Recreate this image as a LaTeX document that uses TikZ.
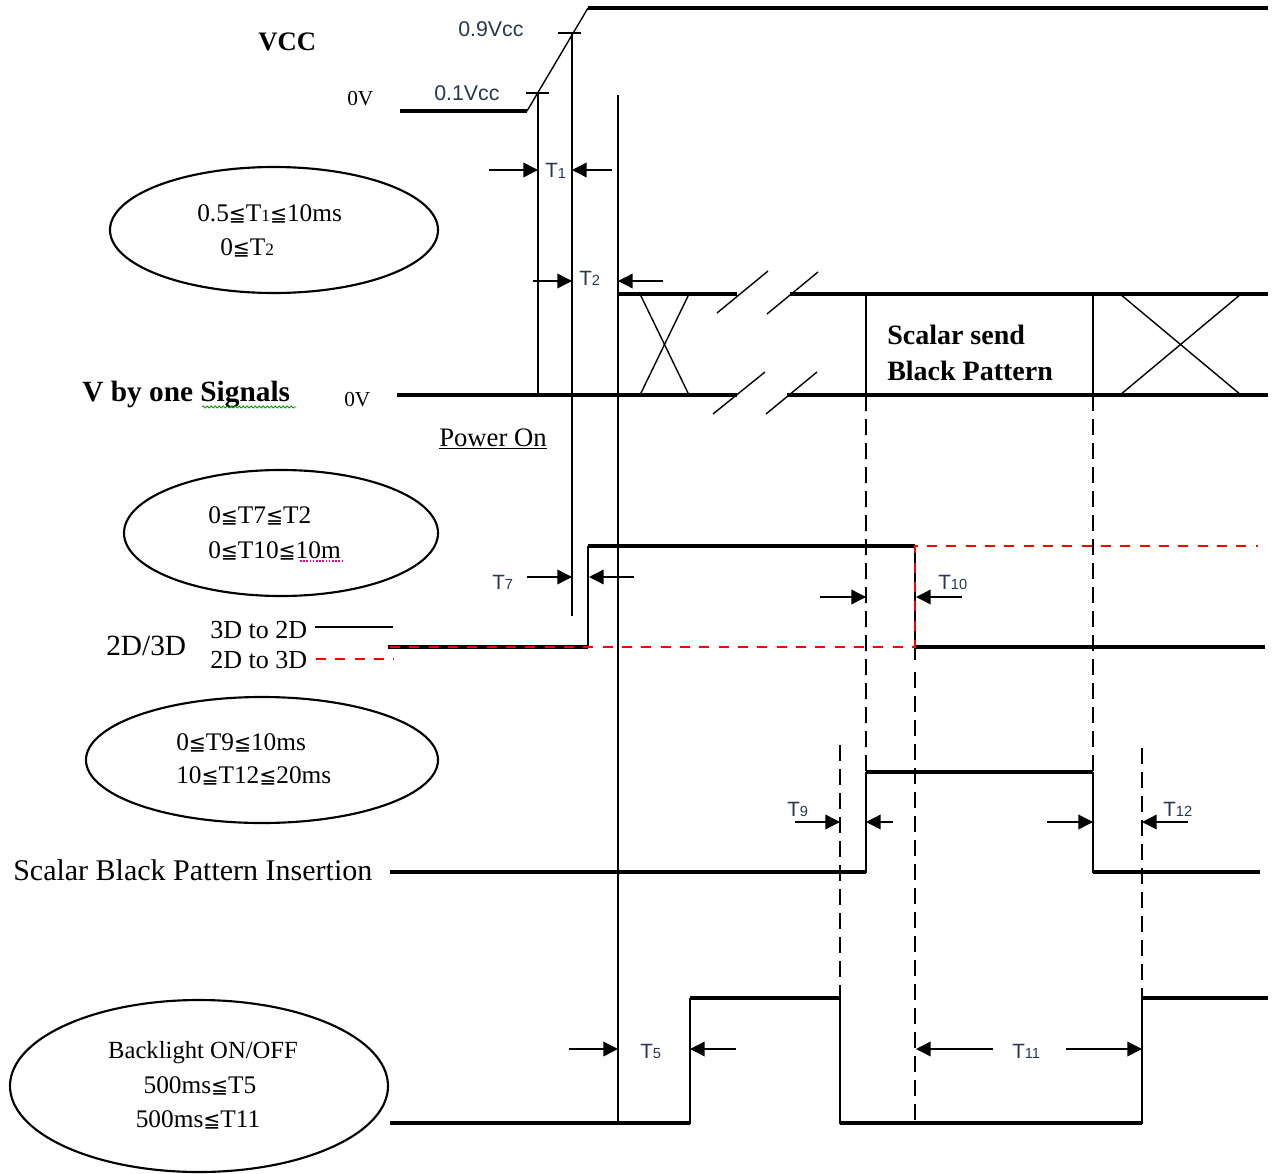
\documentclass[tikz,border=0pt]{standalone}
\usepackage{fontspec}
\setmainfont{Liberation Serif}
\setsansfont{Liberation Sans}
\newfontfamily\symf[Scale=0.8]{DejaVu Sans}
\usetikzlibrary{shapes.geometric,arrows.meta,decorations.pathmorphing}
\newcommand\myle{{\symf ≦}}
\newcommand\smd[1]{{\fontsize{13}{13}\selectfont #1}}
\newcommand\tsub[1]{\raisebox{-0.6pt}{\fontsize{11}{11}\selectfont #1}}
\definecolor{tcol}{RGB}{40,55,80}
\begin{document}
\begin{tikzpicture}[x=0.75pt,y=-0.75pt,
  sig/.style={line width=2.8pt},
  sigm/.style={line width=2.6pt},
  thinline/.style={line width=1.05pt},
  vline/.style={line width=1.3pt},
  dashline/.style={line width=1.3pt, dash pattern=on 12pt off 6pt},
  redline/.style={red, line width=1.6pt, dash pattern=on 7.5pt off 7pt},
  arr/.style={-{Triangle[length=11pt,width=11pt]}, line width=1.05pt},
  tlab/.style={font=\sffamily\fontsize{15.5}{15.5}\selectfont, text=tcol, anchor=base west, inner sep=0pt},
  vlab/.style={font=\sffamily\fontsize{16}{16}\selectfont, text=tcol, anchor=base west, inner sep=0pt},
  etext/.style={font=\fontsize{19}{19}\selectfont, anchor=base west, inner sep=0pt},
  lab/.style={anchor=base west, inner sep=0pt},
  oval/.style={ellipse, draw, line width=1.6pt, inner sep=0pt}
]
\useasboundingbox[fill=white] (0,0) rectangle (1276,1173);

% ---------------- ellipses ----------------
\node[oval, minimum width=246pt, minimum height=94.5pt] (e1) at (274,230) {};
\node[oval, minimum width=235.5pt, minimum height=94.5pt] (e2) at (281,533) {};
\node[oval, minimum width=264pt, minimum height=94.5pt] (e3) at (262,760) {};
\node[oval, minimum width=283.5pt, minimum height=129pt] (e4) at (199,1086) {};

\node[etext] (e1a) at (197,221) {0.5\myle T\smd{1}\myle 10ms};
\node[etext] (e1b) at (220,255) {0\myle T\smd{2}};
\node[etext] (e2a) at (208,523) {0\myle T7\myle T2};
\node[etext] (e2b) at (208,558) {0\myle T10\myle 10m};
\node[etext] (e3a) at (176,750) {0\myle T9\myle 10ms};
\node[etext] (e3b) at (176,783) {10\myle T12\myle 20ms};
\node[etext, anchor=base, font=\fontsize{18.5}{18.5}\selectfont] (e4a) at (203,1058) {Backlight ON/OFF};
\node[etext, anchor=base] (e4b) at (200,1093) {500ms\myle T5};
\node[etext, anchor=base] (e4c) at (198,1127) {500ms\myle T11};
\draw[magenta, line width=0.8pt, dash pattern=on 1.2pt off 1.2pt] (300,561) -- (344,561);

% ---------------- labels ----------------
\node[lab, font=\bfseries\fontsize{20}{20}\selectfont] (vcc) at (258,51) {VCC};
\node[lab, font=\fontsize{16}{16}\selectfont] (ov1) at (347,106) {0V};
\node[vlab] (v09) at (458,37) {0.9Vcc};
\node[vlab] (v01) at (434,101) {0.1Vcc};
\node[lab, font=\bfseries\fontsize{22}{22}\selectfont] (vbo) at (82,401) {V by one Signals};
\draw[green!60!black, line width=0.6pt, decorate, decoration={snake, amplitude=0.8pt, segment length=3pt}] (202,407) -- (296,407);
\node[lab, font=\fontsize{16}{16}\selectfont] (ov2) at (344,406) {0V};
\node[lab, font=\fontsize{20}{20}\selectfont] (pon) at (439,446) {\underline{Power On}};
\node[lab, font=\bfseries\fontsize{21}{21}\selectfont] (ss1) at (887,344) {Scalar send};
\node[lab, font=\bfseries\fontsize{21}{21}\selectfont] (ss2) at (887,380) {Black Pattern};
\node[lab, font=\fontsize{22}{22}\selectfont] (d23) at (106,655) {2D/3D};
\node[lab, font=\fontsize{19.5}{19.5}\selectfont] (l32) at (210,638) {3D to 2D};
\node[lab, font=\fontsize{19.5}{19.5}\selectfont] (l23) at (210,668) {2D to 3D};
\node[lab, font=\fontsize{22.5}{22.5}\selectfont] (sbp) at (13,880) {Scalar Black Pattern Insertion};

% ---------------- VCC ----------------
\draw[sig] (400,111) -- (527,111);
\draw[thinline] (527,111) -- (588,8);
\draw[sig] (588,8) -- (1268,8);
\draw[thinline] (526,93) -- (549,93);
\draw[thinline] (558,33) -- (581,33);
\coordinate (a1) at (538,93);
\coordinate (a2) at (572,33);
\coordinate (a3) at (618,95);
\draw[thinline] (a1) -- (538,395);
\draw[thinline] (a2) -- (572,616);
\draw[thinline] (a3) -- (618,1123);

% T1, T2
\draw[arr] (489,170) -- (538,170);
\draw[arr] (612,170) -- (572,170);
\node[tlab] (t1) at (545,178) {T\tsub{1}};
\draw[arr] (533,281) -- (572,281);
\draw[arr] (663,281) -- (618,281);
\node[tlab] (t2) at (579,285) {T\tsub{2}};

% ---------------- V by one ----------------
\draw[sig] (618,294) -- (737,294);
\draw[sig] (790,294) -- (1268,294);
\draw[sig] (397,395) -- (737,395);
\draw[sig] (787,395) -- (1268,395);
\draw[thinline] (717,313) -- (768,271);
\draw[thinline] (767,314) -- (818,272);
\draw[thinline] (713,414) -- (765,372);
\draw[thinline] (766,414) -- (817,372);
\draw[thinline] (640,294) -- (689,395);
\draw[thinline] (689,294) -- (640,395);
\draw[thinline] (1120,294) -- (1241,395);
\draw[thinline] (1241,294) -- (1120,395);
\draw[vline] (866,294) -- (866,395);
\draw[vline] (1093,294) -- (1093,395);
\draw[dashline] (866,395) -- (866,772);
\draw[dashline] (1093,395) -- (1093,772);

% ---------------- 2D/3D ----------------
\draw[sig] (388,647) -- (588,647);
\draw[vline] (588,648) -- (588,546);
\draw[sig] (588,546) -- (915,546);
\draw[vline] (915,546) -- (915,660);
\draw[sig] (915,647) -- (1265,647);
\draw[redline] (390,647) -- (915,647) -- (915,546) -- (1258,546);
\draw[dashline] (915,672) -- (915,1123);
\draw[line width=1.6pt] (315,627) -- (393,627);
\draw[redline] (316,659) -- (394,659);

% T7, T10
\draw[arr] (527,577) -- (572,577);
\draw[arr] (634,577) -- (589,577);
\node[tlab] (t7) at (492,589) {T\tsub{7}};
\draw[arr] (820,597) -- (866,597);
\draw[arr] (962,597) -- (916,597);
\node[tlab] (t10) at (938,589) {T\tsub{10}};

% ---------------- Scalar Black Pattern Insertion ----------------
\draw[sigm] (390,872) -- (866,872);
\draw[vline] (866,873) -- (866,772);
\draw[sigm] (866,772) -- (1093,772);
\draw[vline] (1093,772) -- (1093,873);
\draw[sigm] (1093,872) -- (1260,872);
\draw[dashline] (840,745) -- (840,998);
\draw[dashline] (1142,748) -- (1142,998);

% T9, T12
\draw[arr] (795,822) -- (840,822);
\draw[arr] (893,822) -- (866,822);
\node[tlab] (t9) at (787,816) {T\tsub{9}};
\draw[arr] (1047,822) -- (1093,822);
\draw[arr] (1188,822) -- (1142,822);
\node[tlab] (t12) at (1163,816) {T\tsub{12}};

% ---------------- Backlight ----------------
\draw[sigm] (390,1123) -- (690,1123);
\draw[vline] (690,1124) -- (690,998);
\draw[sigm] (690,998) -- (840,998);
\draw[vline] (840,998) -- (840,1124);
\draw[sigm] (840,1123) -- (1142,1123);
\draw[vline] (1142,1124) -- (1142,998);
\draw[sigm] (1142,998) -- (1268,998);

% T5, T11
\draw[arr] (569,1049) -- (618,1049);
\draw[arr] (736,1049) -- (690,1049);
\node[tlab] (t5) at (640,1058) {T\tsub{5}};
\draw[arr] (993,1049) -- (916,1049);
\draw[arr] (1066,1049) -- (1142,1049);
\node[tlab] (t11) at (1012,1058) {T\tsub{11}};
\end{tikzpicture}
\end{document}
